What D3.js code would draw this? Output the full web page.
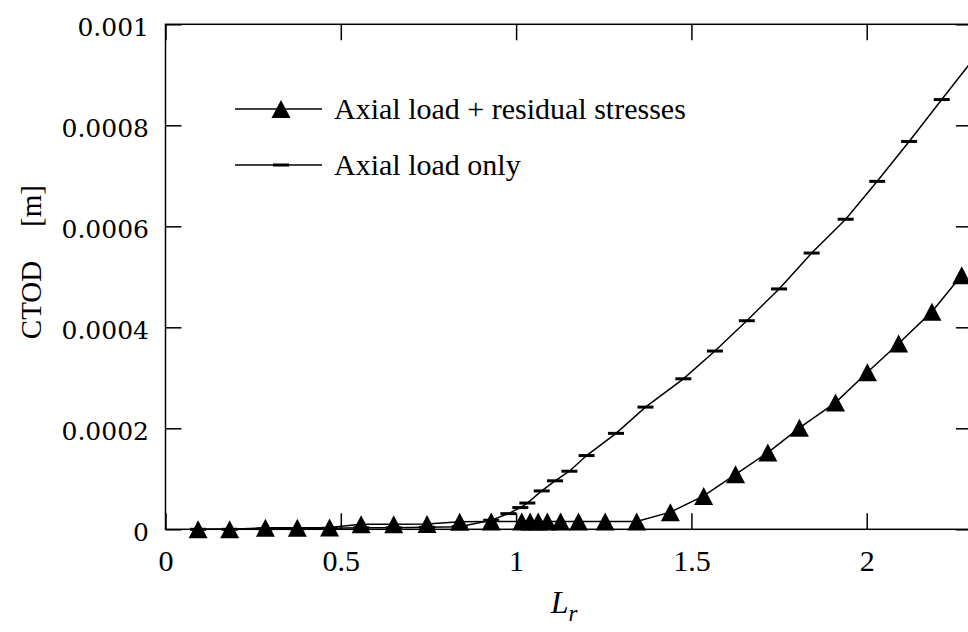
<!DOCTYPE html>
<html>
<head>
<meta charset="utf-8">
<script src="https://cdn.jsdelivr.net/npm/d3@7"></script>
<style>
  html, body { margin: 0; padding: 0; background: #fff; }
  svg { display: block; }
</style>
</head>
<body>
<svg id="chart" width="968" height="632"></svg>
<script>
// CTOD versus load ratio L_r for the two load cases
const lrResidual = [0.093, 0.183, 0.285, 0.376, 0.468, 0.558, 0.651, 0.746, 0.839, 0.929,
                    1.016, 1.040, 1.063, 1.089, 1.127, 1.178, 1.254, 1.344,
                    1.440, 1.535, 1.626, 1.718, 1.808, 1.911, 2.002, 2.091, 2.186, 2.271];
const ctodResidual = [0, 0, 3e-6, 3e-6, 3.5e-6, 1.0e-5, 1.0e-5, 1.05e-5, 1.5e-5, 1.55e-5,
                      1.55e-5, 1.55e-5, 1.55e-5, 1.55e-5, 1.55e-5, 1.55e-5, 1.55e-5, 1.55e-5,
                      3.4e-5, 6.6e-5, 1.09e-4, 1.52e-4, 2.01e-4, 2.51e-4, 3.11e-4, 3.68e-4, 4.31e-4, 5.03e-4];

const lrAxial = [0.093, 0.183, 0.285, 0.376, 0.468, 0.558, 0.651, 0.746, 0.839, 0.929,
                 0.978, 1.012, 1.032, 1.073, 1.111, 1.152, 1.201, 1.285, 1.369, 1.477,
                 1.567, 1.658, 1.750, 1.843, 1.940, 2.030, 2.121, 2.214, 2.310];
const ctodAxial = [0, 0, 1e-6, 1e-6, 2e-6, 3e-6, 3e-6, 4e-6, 5e-6, 1.8e-5,
                   3.1e-5, 4.3e-5, 5.2e-5, 7.6e-5, 9.6e-5, 1.15e-4, 1.46e-4, 1.90e-4, 2.42e-4, 2.98e-4,
                   3.53e-4, 4.13e-4, 4.76e-4, 5.47e-4, 6.14e-4, 6.89e-4, 7.68e-4, 8.51e-4, 9.36e-4];

const seriesNames = ["Axial load + residual stresses", "Axial load only"];

const xTicks = [0, 0.5, 1, 1.5, 2];
const xTickLabels = ["0", "0.5", "1", "1.5", "2"];
const yTicks = [0, 0.0002, 0.0004, 0.0006, 0.0008, 0.001];
const yTickLabels = ["0", "0.0002", "0.0004", "0.0006", "0.0008", "0.001"];

const plot = { left: 165.5, right: 971.9, top: 24.3, bottom: 529.3 };
const tickLen = 16;
const serif = "'Liberation Serif', 'Times New Roman', serif";

const svg = d3.select("#chart");

const x = d3.scaleLinear().domain([0, 2.3]).range([plot.left, plot.right]);
const y = d3.scaleLinear().domain([0, 0.001]).range([plot.bottom, plot.top]);

// inward ticks on all four sides
const bottomAxis = svg.append("g")
  .attr("transform", `translate(0,${plot.bottom})`)
  .call(d3.axisBottom(x).tickValues(xTicks)
    .tickFormat((d, i) => xTickLabels[i])
    .tickSizeInner(-tickLen).tickSizeOuter(0).tickPadding(20));
const leftAxis = svg.append("g")
  .attr("transform", `translate(${plot.left},0)`)
  .call(d3.axisLeft(y).tickValues(yTicks)
    .tickFormat((d, i) => yTickLabels[i])
    .tickSizeInner(-tickLen).tickSizeOuter(0).tickPadding(16.5));
const topAxis = svg.append("g")
  .attr("transform", `translate(0,${plot.top})`)
  .call(d3.axisTop(x).tickValues(xTicks).tickFormat("")
    .tickSizeInner(-tickLen).tickSizeOuter(0));
const rightAxis = svg.append("g")
  .attr("transform", `translate(${plot.right},0)`)
  .call(d3.axisRight(y).tickValues(yTicks).tickFormat("")
    .tickSizeInner(-tickLen).tickSizeOuter(0));

[bottomAxis, leftAxis, topAxis, rightAxis].forEach(g => {
  g.select(".domain").remove();
  g.selectAll(".tick line").attr("stroke", "#000").attr("stroke-width", 1.5);
});

bottomAxis.selectAll(".tick text")
  .attr("font-family", serif).attr("font-size", 30).attr("fill", "#000");
leftAxis.selectAll(".tick text")
  .attr("font-family", "'DejaVu Serif', serif").attr("font-size", 25).attr("fill", "#000")
  .attr("dy", "0.45em");

// plot frame
svg.append("rect")
  .attr("x", plot.left).attr("y", plot.top)
  .attr("width", plot.right - plot.left).attr("height", plot.bottom - plot.top)
  .attr("fill", "none").attr("stroke", "#000").attr("stroke-width", 1.5);

svg.append("clipPath").attr("id", "plot-clip")
  .append("rect")
  .attr("x", plot.left).attr("y", plot.top)
  .attr("width", plot.right - plot.left).attr("height", plot.bottom - plot.top);

const residual = lrResidual.map((l, i) => ({ x: l, y: ctodResidual[i] }));
const axial = lrAxial.map((l, i) => ({ x: l, y: ctodAxial[i] }));
const axialShown = axial.filter(d => d.x <= 2.3);

const line = d3.line().x(d => x(d.x)).y(d => y(d.y));

const trianglePath = "M0,-9 L9.5,9 L-9.5,9 Z";
const dashHalf = 8;

// curves are clipped to the frame, markers are not
const curves = svg.append("g").attr("clip-path", "url(#plot-clip)");
curves.append("path").datum(axial)
  .attr("d", line).attr("fill", "none")
  .attr("stroke", "#000").attr("stroke-width", 1.5);
curves.append("path").datum(residual)
  .attr("d", line).attr("fill", "none")
  .attr("stroke", "#000").attr("stroke-width", 1.5);

svg.append("g").selectAll("line").data(axialShown).join("line")
  .attr("x1", d => x(d.x) - dashHalf).attr("x2", d => x(d.x) + dashHalf)
  .attr("y1", d => y(d.y)).attr("y2", d => y(d.y))
  .attr("stroke", "#000").attr("stroke-width", 3);

svg.append("g").selectAll("path").data(residual).join("path")
  .attr("transform", d => `translate(${x(d.x)},${y(d.y)})`)
  .attr("d", trianglePath).attr("fill", "#000");

// legend
const legend = svg.append("g");
const legendRows = [
  { y: 109, name: seriesNames[0], marker: "triangle" },
  { y: 165, name: seriesNames[1], marker: "dash" }
];
legendRows.forEach(r => {
  legend.append("line")
    .attr("x1", 235).attr("x2", 322).attr("y1", r.y).attr("y2", r.y)
    .attr("stroke", "#000").attr("stroke-width", 1.5);
  if (r.marker === "triangle") {
    legend.append("path").attr("transform", `translate(281,${r.y})`)
      .attr("d", trianglePath).attr("fill", "#000");
  } else {
    legend.append("line")
      .attr("x1", 281 - dashHalf).attr("x2", 281 + dashHalf)
      .attr("y1", r.y).attr("y2", r.y)
      .attr("stroke", "#000").attr("stroke-width", 3);
  }
  legend.append("text")
    .attr("x", 334).attr("y", r.y + 10)
    .attr("font-family", serif).attr("font-size", 30).attr("fill", "#000")
    .text(r.name);
});

// axis titles
const xTitle = svg.append("text")
  .attr("x", 564).attr("y", 613)
  .attr("text-anchor", "middle")
  .attr("font-family", serif).attr("font-size", 32).attr("fill", "#000");
xTitle.append("tspan").attr("font-style", "italic").text("L");
xTitle.append("tspan").attr("font-style", "italic").attr("font-size", 23)
  .attr("dy", 8).text("r");

svg.append("text")
  .attr("transform", "translate(41,300) rotate(-90)")
  .attr("text-anchor", "middle")
  .attr("font-family", serif).attr("font-size", 29).attr("fill", "#000")
  .text("CTOD");
svg.append("text")
  .attr("transform", "translate(41,206) rotate(-90)")
  .attr("text-anchor", "middle")
  .attr("font-family", serif).attr("font-size", 29).attr("fill", "#000")
  .text("[m]");
</script>
</body>
</html>
